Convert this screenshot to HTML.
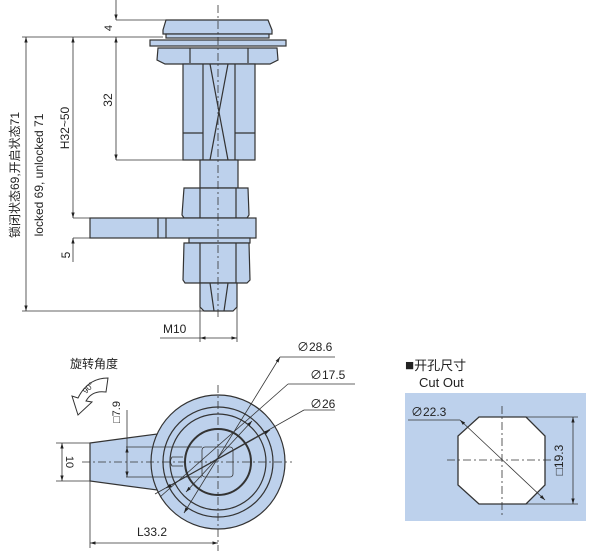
<!DOCTYPE html>
<html><head><meta charset="utf-8"><style>
html,body{margin:0;padding:0;background:#fff;}
svg{display:block;}
text{font-family:"Liberation Sans","Noto Sans CJK SC",sans-serif;fill:#222;}
</style></head><body>
<svg width="600" height="551" viewBox="0 0 600 551" xmlns="http://www.w3.org/2000/svg">
<defs>
<marker id="a" viewBox="0 0 10 10" refX="10" refY="5" markerWidth="7" markerHeight="7" orient="auto-start-reverse"><path d="M0,2 L10,5 L0,8 z" fill="#222"/></marker>
</defs>
<g stroke="#333" stroke-width="1.2" fill="#bdd1ec">
<!-- side view -->
<path d="M166,20 L268,20 L272,30 L272,34 L163,34 L163,30 Z"/>
<rect x="166" y="34" width="103" height="4"/>
<rect x="150" y="40" width="136" height="6"/>
<path d="M158,48 L277,48 L278,60 L270,64 L165,64 L157,60 Z"/>
<line x1="190" y1="48" x2="190" y2="63"/><line x1="248" y1="48" x2="248" y2="63"/>
<rect x="183" y="64" width="72" height="96"/>
<line x1="203" y1="64" x2="203" y2="160"/><line x1="235" y1="64" x2="235" y2="160"/>
<line x1="183" y1="133" x2="203" y2="133"/><line x1="235" y1="133" x2="255" y2="133"/>
<line x1="210" y1="64" x2="228" y2="160"/><line x1="228" y1="64" x2="210" y2="160"/>
<rect x="200" y="160" width="38" height="28"/>
<path d="M184,188 L248,188 L249,215 L247,218 L184,218 L182,215 Z"/>
<line x1="200" y1="188" x2="200" y2="218"/><line x1="236" y1="188" x2="236" y2="218"/>
<rect x="90" y="218" width="166" height="20"/>
<line x1="158" y1="218" x2="158" y2="238"/><line x1="166" y1="218" x2="166" y2="238"/>
<rect x="189" y="238" width="61" height="5"/>
<path d="M184,243 L249,243 L250,280 L247,283 L185,283 L183,280 Z"/>
<line x1="200" y1="243" x2="200" y2="283"/><line x1="236" y1="243" x2="236" y2="283"/>
<path d="M200,283 L237,283 L237,307 L233,311 L204,311 L200,307 Z"/>
<line x1="210" y1="283" x2="214" y2="311"/><line x1="228" y1="283" x2="224" y2="311"/>
</g>
<g stroke="#333" stroke-width="0.8" fill="none">
<line x1="218" y1="5" x2="218" y2="318" stroke-dasharray="8,3,2,3"/>
<line x1="116" y1="0" x2="116" y2="20" marker-end="url(#a)"/>
<line x1="116" y1="37" x2="116" y2="160" marker-start="url(#a)" marker-end="url(#a)"/>
<line x1="116" y1="20" x2="166" y2="20"/>
<line x1="22" y1="37" x2="163" y2="37"/>
<line x1="116" y1="160" x2="200" y2="160"/>
<line x1="73" y1="37" x2="73" y2="218" marker-start="url(#a)" marker-end="url(#a)"/>
<line x1="73" y1="218" x2="90" y2="218"/><line x1="73" y1="238" x2="90" y2="238"/>
<line x1="73" y1="238" x2="73" y2="262" marker-start="url(#a)"/>
<line x1="26" y1="37" x2="26" y2="311" marker-start="url(#a)" marker-end="url(#a)"/>
<line x1="22" y1="311" x2="204" y2="311"/>
<line x1="200" y1="300" x2="200" y2="342"/><line x1="237" y1="300" x2="237" y2="342"/>
<line x1="160" y1="338" x2="200" y2="338"/>
<line x1="200" y1="338" x2="237" y2="338" marker-start="url(#a)" marker-end="url(#a)"/>
</g>
<text x="112" y="28" font-size="11" transform="rotate(-90 112 28)" text-anchor="middle">4</text>
<text x="112" y="100" font-size="12" transform="rotate(-90 112 100)" text-anchor="middle">32</text>
<text x="69" y="128" font-size="12" transform="rotate(-90 69 128)" text-anchor="middle">H32~50</text>
<text x="70" y="255" font-size="12" transform="rotate(-90 70 255)" text-anchor="middle">5</text>
<text x="19" y="175" font-size="12" transform="rotate(-90 19 175)" text-anchor="middle">锁闭状态69,开启状态71</text>
<text x="43" y="175" font-size="12" transform="rotate(-90 43 175)" text-anchor="middle">locked 69, unlocked 71</text>
<text x="163" y="333" font-size="12">M10</text>
<!-- bottom view -->
<g stroke="#333" stroke-width="1.2" fill="#bdd1ec">
<path d="M90,443 L157,434 L157,490 L90,481 Z"/>
<circle cx="218" cy="462" r="67"/>
<circle cx="218" cy="462" r="55"/>
<circle cx="218" cy="462" r="48"/>
<circle cx="218" cy="462" r="33" stroke-width="2"/>
</g>
<g stroke="#333" stroke-width="0.8" fill="none">
<rect x="202" y="447" width="31" height="30" rx="3"/>
<path d="M183,457 L172,457 Q169,461.5 172,466 L183,466"/>
<line x1="126" y1="447" x2="202" y2="447"/><line x1="126" y1="477" x2="202" y2="477"/>
<line x1="127" y1="410" x2="127" y2="447"/><line x1="127" y1="447" x2="127" y2="477" marker-start="url(#a)" marker-end="url(#a)"/>
<line x1="56" y1="443" x2="90" y2="443"/><line x1="56" y1="481" x2="90" y2="481"/>
<line x1="62" y1="443" x2="62" y2="481" marker-start="url(#a)" marker-end="url(#a)"/>
<line x1="82" y1="462" x2="292" y2="462" stroke-dasharray="8,3,2,3"/>
<line x1="218" y1="385" x2="218" y2="551" stroke-dasharray="8,3,2,3"/>
<line x1="90" y1="481" x2="90" y2="548"/>
<line x1="90" y1="543" x2="218" y2="543" marker-start="url(#a)" marker-end="url(#a)"/>
<line x1="280" y1="357" x2="335" y2="357"/>
<line x1="280" y1="357" x2="184" y2="513" marker-start="url(#a)" marker-end="url(#a)"/>
<line x1="288" y1="384" x2="355" y2="384"/>
<line x1="288" y1="384" x2="160" y2="497"/>
<line x1="252" y1="421" x2="186" y2="492" marker-start="url(#a)" marker-end="url(#a)"/>
<line x1="304" y1="410" x2="335" y2="410"/>
<line x1="304" y1="410" x2="155" y2="494"/>
<line x1="270" y1="430" x2="166" y2="488" marker-start="url(#a)" marker-end="url(#a)"/>
</g>
<text x="297" y="351" font-size="12">∅28.6</text>
<text x="310" y="379" font-size="12">∅17.5</text>
<text x="310" y="408" font-size="12">∅26</text>
<text x="137" y="536" font-size="12">L33.2</text>
<text x="66" y="462" font-size="11" transform="rotate(90 66 462)" text-anchor="middle">10</text>
<text x="120" y="412" font-size="11" transform="rotate(-90 120 412)" text-anchor="middle">□7.9</text>
<text x="70" y="368" font-size="12">旋转角度</text>
<path d="M108,378 Q88,378 78,398 L72,396 L78,415 L92,402 L86,401 Q92,390 106,392 Z" fill="#fff" stroke="#333" stroke-width="1"/>
<text x="86" y="394" font-size="8" transform="rotate(-45 86 394)">90°</text>
<!-- cut out -->
<text x="405" y="370" font-size="13"><tspan font-size="15">■</tspan>开孔尺寸</text>
<text x="419" y="387" font-size="13">Cut Out</text>
<rect x="405" y="393" width="181" height="128" fill="#bdd1ec"/>
<path d="M479,417 L526,417 L545,436 L545,485 L526,504 L479,504 L458,485 L458,436 Z" fill="#fff" stroke="#333" stroke-width="1.3"/>
<g stroke="#333" stroke-width="0.8" fill="none">
<line x1="447" y1="460" x2="556" y2="460" stroke-dasharray="8,3,2,3"/>
<line x1="502" y1="406" x2="502" y2="515" stroke-dasharray="8,3,2,3"/>
<line x1="408" y1="420" x2="460" y2="420"/>
<line x1="460" y1="420" x2="545" y2="500" marker-start="url(#a)" marker-end="url(#a)"/>
<line x1="526" y1="417" x2="578" y2="417"/><line x1="526" y1="504" x2="578" y2="504"/>
<line x1="573" y1="417" x2="573" y2="504" marker-start="url(#a)" marker-end="url(#a)"/>
</g>
<text x="411" y="416" font-size="12">∅22.3</text>
<text x="563" y="460" font-size="12" transform="rotate(-90 563 460)" text-anchor="middle">□19.3</text>
</svg>
</body></html>
